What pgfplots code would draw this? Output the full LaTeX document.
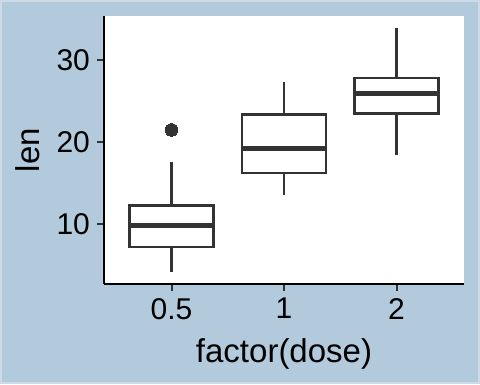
\documentclass[border=0pt]{standalone}
\usepackage{pgfplots}
\pgfplotsset{compat=1.18}
\usepgfplotslibrary{statistics}
\usepackage{fontspec}
\setmainfont{Liberation Sans}
\definecolor{bgblue}{HTML}{B3CADC}
\definecolor{bordc}{HTML}{CBDAE6}
\definecolor{gtwenty}{HTML}{333333}
\begin{document}
\begin{tikzpicture}
\fill[bgblue] (0,0) rectangle (240pt,192pt);
\draw[bordc, line width=0.8pt] (0.4pt,0.4pt) rectangle (239.6pt,191.6pt);
\begin{axis}[
  at={(52pt,50pt)}, anchor=south west,
  scale only axis, width=180pt, height=134pt,
  xmin=0.4, xmax=3.6, ymin=2.715, ymax=35.385,
  axis x line=bottom, axis y line=left,
  axis line style={-, line width=1pt, black},
  axis background/.style={fill=white},
  xtick={1,2,3}, xticklabels={0.5,1,2},
  ytick={10,20,30},
  tick align=outside, major tick length=3.5pt,
  tick style={line width=1pt, gtwenty},
  minor tick num=0,
  /pgf/number format/assume math mode=true,
  tick label style={font=\fontsize{15}{18}\selectfont, black},
  label style={font=\fontsize{16.5}{19}\selectfont, black},
  xlabel={factor(dose)}, ylabel={len},
  xlabel style={at={(axis description cs:0.5,-0.261)}, anchor=center},
  ylabel style={at={(axis description cs:-0.211,0.5)}, anchor=center, rotate=0},
  boxplot/draw direction=y,
  boxplot/box extend=0.75,
  boxplot/whisker extend=0,
  boxplot/every median/.style={line width=2.7pt},
  clip=false,
]
\addplot[draw=gtwenty, fill=white, line width=1.3pt, mark=*, mark size=3.2pt,
  mark options={fill=gtwenty, draw=gtwenty, line width=0pt},
  boxplot prepared={draw position=1, lower whisker=4.2, lower quartile=7.225,
    median=9.85, upper quartile=12.25, upper whisker=17.6}]
  table[row sep=\\, y index=0] {21.5\\};
\addplot[draw=gtwenty, fill=white, line width=1.3pt,
  boxplot prepared={draw position=2, lower whisker=13.6, lower quartile=16.25,
    median=19.25, upper quartile=23.375, upper whisker=27.3}]
  coordinates {};
\addplot[draw=gtwenty, fill=white, line width=1.3pt,
  boxplot prepared={draw position=3, lower whisker=18.5, lower quartile=23.525,
    median=25.95, upper quartile=27.825, upper whisker=33.9}]
  coordinates {};
\end{axis}
\end{tikzpicture}
\end{document}
